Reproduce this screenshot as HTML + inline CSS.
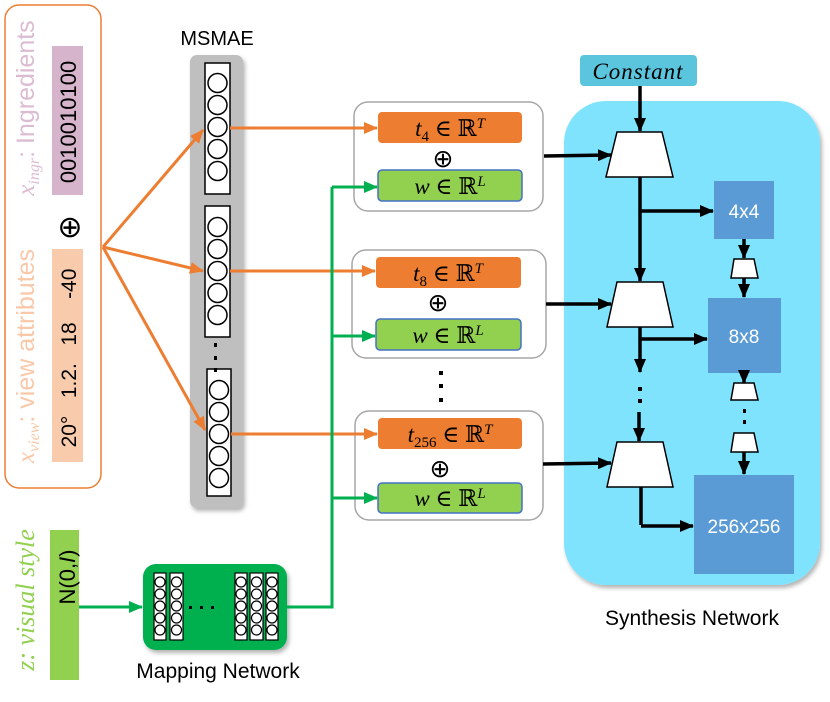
<!DOCTYPE html>
<html><head><meta charset="utf-8"><style>
html,body{margin:0;padding:0;background:#fff;}
svg{display:block;}
text{font-family:"Liberation Sans",sans-serif;}
.ser{font-family:"Liberation Serif","DejaVu Serif",serif;font-style:italic;}
</style></head><body>
<svg width="830" height="702" viewBox="0 0 830 702" xmlns="http://www.w3.org/2000/svg">
<defs>
<marker id="ao" markerUnits="userSpaceOnUse" markerWidth="14" markerHeight="12" refX="13" refY="6" orient="auto"><path d="M0,0L14,6L0,12z" fill="#ed7d31"/></marker>
<marker id="ag" markerUnits="userSpaceOnUse" markerWidth="14" markerHeight="12" refX="13" refY="6" orient="auto"><path d="M0,0L14,6L0,12z" fill="#00b050"/></marker>
<marker id="ab" markerUnits="userSpaceOnUse" markerWidth="14" markerHeight="12" refX="13" refY="6" orient="auto"><path d="M0,0L14,6L0,12z" fill="#000"/></marker>
<filter id="sh" x="-10%" y="-10%" width="130%" height="130%"><feDropShadow dx="2" dy="3" stdDeviation="2" flood-color="#000" flood-opacity="0.3"/></filter>
</defs>

<!-- left input box -->
<rect x="5" y="5" width="96" height="483" rx="14" fill="#fff" stroke="#ed7d31" stroke-width="1.5"/>
<rect x="52" y="46" width="31" height="149" fill="#d5b4cc"/>
<rect x="52" y="249" width="31" height="213" fill="#f8cbad"/>
<text transform="translate(76,122) rotate(-90)" text-anchor="middle" font-size="22">0010010100</text>
<text transform="translate(76,358) rotate(-90)" text-anchor="middle" font-size="21" xml:space="preserve">20°   1.2.   18    -40</text>
<text x="70" y="237" text-anchor="middle" font-size="30" font-family="DejaVu Sans">⊕</text>
<text transform="translate(34,108) rotate(-90)" text-anchor="middle" font-size="25" fill="#dbbcd2"><tspan class="ser">x</tspan><tspan class="ser" font-size="16" dy="5">ingr</tspan><tspan dy="-5">: Ingredients</tspan></text>
<text transform="translate(34,356) rotate(-90)" text-anchor="middle" font-size="25" fill="#f8c8a8"><tspan class="ser">x</tspan><tspan class="ser" font-size="16" dy="5">view</tspan><tspan dy="-5">: view attributes</tspan></text>

<!-- MSMAE -->
<text x="217" y="45" text-anchor="middle" font-size="20">MSMAE</text>
<rect x="190" y="55" width="53" height="453" rx="7" fill="#bfbfbf" filter="url(#sh)"/>
<g fill="#fff" stroke="#000" stroke-width="1.5">
<rect x="205" y="63" width="25" height="131"/>
<rect x="205" y="206" width="25" height="131"/>
<rect x="207" y="369" width="24" height="127"/>
<circle cx="217.5" cy="83" r="9.5"/><circle cx="217.5" cy="105" r="9.5"/><circle cx="217.5" cy="127" r="9.5"/><circle cx="217.5" cy="149" r="9.5"/><circle cx="217.5" cy="171" r="9.5"/>
<circle cx="217.5" cy="227" r="9.5"/><circle cx="217.5" cy="249" r="9.5"/><circle cx="217.5" cy="271" r="9.5"/><circle cx="217.5" cy="293" r="9.5"/><circle cx="217.5" cy="315" r="9.5"/>
<circle cx="219" cy="390" r="9.5"/><circle cx="219" cy="412" r="9.5"/><circle cx="219" cy="434" r="9.5"/><circle cx="219" cy="456" r="9.5"/><circle cx="219" cy="478" r="9.5"/>
</g>
<g fill="#000"><rect x="214" y="343" width="3" height="4"/><rect x="214" y="356" width="3" height="4"/><rect x="214" y="368" width="3" height="4"/></g>

<!-- middle boxes -->
<g fill="#fff" stroke="#a6a6a6" stroke-width="1.5">
<rect x="354" y="102" width="189" height="109" rx="14"/>
<rect x="352" y="250" width="194" height="108" rx="14"/>
<rect x="355" y="411" width="188" height="109" rx="14"/>
</g>
<g fill="#ed7d31"><rect x="378" y="112" width="144" height="31" rx="4"/><rect x="376" y="257" width="145" height="31" rx="4"/><rect x="378" y="418" width="144" height="31" rx="4"/></g>
<g fill="#92d050" stroke="#4472c4" stroke-width="1.5"><rect x="378" y="170" width="144" height="31" rx="4"/><rect x="376" y="319" width="145" height="31" rx="4"/><rect x="378" y="483" width="144" height="30" rx="4"/></g>
<g font-size="23" text-anchor="middle">
<text x="450" y="136" class="ser">t<tspan font-size="15" dy="5" font-style="normal">4</tspan><tspan dy="-5" font-style="normal"> ∈ ℝ</tspan><tspan font-size="15" dy="-8">T</tspan></text>
<text x="448" y="281" class="ser">t<tspan font-size="15" dy="5" font-style="normal">8</tspan><tspan dy="-5" font-style="normal"> ∈ ℝ</tspan><tspan font-size="15" dy="-8">T</tspan></text>
<text x="450" y="442" class="ser">t<tspan font-size="15" dy="5" font-style="normal">256</tspan><tspan dy="-5" font-style="normal"> ∈ ℝ</tspan><tspan font-size="15" dy="-8">T</tspan></text>
<text x="450" y="194" class="ser">w<tspan font-style="normal"> ∈ ℝ</tspan><tspan font-size="15" dy="-8">L</tspan></text>
<text x="448" y="343" class="ser">w<tspan font-style="normal"> ∈ ℝ</tspan><tspan font-size="15" dy="-8">L</tspan></text>
<text x="450" y="506" class="ser">w<tspan font-style="normal"> ∈ ℝ</tspan><tspan font-size="15" dy="-8">L</tspan></text>
</g>
<g font-size="25" text-anchor="middle" font-family="DejaVu Sans"><text x="443" y="167">⊕</text><text x="438" y="311">⊕</text><text x="440" y="477">⊕</text></g>
<g fill="#000"><rect x="439" y="371" width="4" height="4"/><rect x="439" y="384" width="4" height="4"/><rect x="439" y="398" width="4" height="4"/></g>

<!-- orange arrows -->
<g stroke="#ed7d31" stroke-width="3" fill="none">
<line x1="103" y1="247" x2="203" y2="130" marker-end="url(#ao)"/>
<line x1="103" y1="247" x2="203" y2="271" marker-end="url(#ao)"/>
<line x1="103" y1="247" x2="205" y2="430" marker-end="url(#ao)"/>
<line x1="230" y1="128" x2="377" y2="128" marker-end="url(#ao)"/>
<line x1="230" y1="271" x2="375" y2="271" marker-end="url(#ao)"/>
<line x1="231" y1="434" x2="377" y2="434" marker-end="url(#ao)"/>
</g>

<!-- z / mapping -->
<rect x="50" y="530" width="29" height="150" fill="#92d050"/>
<text transform="translate(75,577) rotate(-90)" text-anchor="middle" font-size="22" font-family="Liberation Serif,serif">N(0,<tspan font-style="italic">I</tspan>)</text>
<text transform="translate(34,600) rotate(-90)" text-anchor="middle" font-size="26" fill="#92d050" class="ser">z: visual style</text>
<rect x="143" y="564" width="144" height="86" rx="13" fill="#00b050" filter="url(#sh)"/>
<g fill="#fff" stroke="#000" stroke-width="1.2">
<rect x="154" y="573" width="12" height="67"/><rect x="170" y="573" width="13" height="67"/>
<rect x="235" y="573" width="12" height="67"/><rect x="250" y="573" width="13" height="67"/><rect x="266" y="573" width="12" height="67"/>
</g>
<g fill="none" stroke="#000" stroke-width="1.2">
<circle cx="160" cy="582" r="5"/><circle cx="160" cy="594" r="5"/><circle cx="160" cy="606" r="5"/><circle cx="160" cy="618" r="5"/><circle cx="160" cy="630" r="5"/>
<circle cx="176.5" cy="582" r="5"/><circle cx="176.5" cy="594" r="5"/><circle cx="176.5" cy="606" r="5"/><circle cx="176.5" cy="618" r="5"/><circle cx="176.5" cy="630" r="5"/>
<circle cx="241" cy="582" r="5"/><circle cx="241" cy="594" r="5"/><circle cx="241" cy="606" r="5"/><circle cx="241" cy="618" r="5"/><circle cx="241" cy="630" r="5"/>
<circle cx="256.5" cy="582" r="5"/><circle cx="256.5" cy="594" r="5"/><circle cx="256.5" cy="606" r="5"/><circle cx="256.5" cy="618" r="5"/><circle cx="256.5" cy="630" r="5"/>
<circle cx="272" cy="582" r="5"/><circle cx="272" cy="594" r="5"/><circle cx="272" cy="606" r="5"/><circle cx="272" cy="618" r="5"/><circle cx="272" cy="630" r="5"/>
</g>
<g fill="#000"><rect x="189" y="606" width="3" height="3"/><rect x="200" y="606" width="3" height="3"/><rect x="211" y="606" width="3" height="3"/></g>
<text x="218" y="678" text-anchor="middle" font-size="21">Mapping Network</text>
<g stroke="#00b050" stroke-width="3" fill="none">
<line x1="79" y1="607" x2="142" y2="607" marker-end="url(#ag)"/>
<polyline points="287,607 332,607 332,187"/>
<line x1="332" y1="187" x2="377" y2="187" marker-end="url(#ag)"/>
<line x1="332" y1="336" x2="375" y2="336" marker-end="url(#ag)"/>
<line x1="332" y1="498" x2="377" y2="498" marker-end="url(#ag)"/>
</g>

<!-- synthesis -->
<rect x="564" y="101" width="256" height="484" rx="42" fill="#7fe3fd" filter="url(#sh)"/>
<rect x="580" y="55" width="117" height="31" rx="4" fill="#5bc5de"/>
<text x="638" y="79" text-anchor="middle" font-size="23" class="ser" letter-spacing="1">Constant</text>
<g fill="#5b9bd5"><rect x="714" y="181" width="60" height="58"/><rect x="708" y="298" width="73" height="75"/><rect x="694" y="475" width="100" height="99"/></g>
<g fill="#fff" font-size="19" text-anchor="middle"><text x="744" y="218">4x4</text><text x="744" y="343">8x8</text><text x="744" y="533">256x256</text></g>
<g fill="#fff" stroke="#000" stroke-width="1.5">
<polygon points="617,132 662,132 673,177 606,177"/>
<polygon points="617,282 663,282 673,327 607,327"/>
<polygon points="617,442 663,442 673,487 607,487"/>
<polygon points="734,259 754,259 758,278 731,278"/>
<polygon points="734,383 754,383 758,400 731,400"/>
<polygon points="734,433 754,433 758,452 731,452"/>
</g>
<g stroke="#000" stroke-width="3.5" fill="none">
<line x1="640" y1="86" x2="640" y2="131" marker-end="url(#ab)"/>
<line x1="544" y1="156" x2="611" y2="155" marker-end="url(#ab)"/>
<line x1="546" y1="304" x2="611" y2="304" marker-end="url(#ab)"/>
<line x1="543" y1="464" x2="611" y2="463" marker-end="url(#ab)"/>
<line x1="640" y1="177" x2="640" y2="281" marker-end="url(#ab)"/>
<line x1="640" y1="211" x2="713" y2="211" marker-end="url(#ab)"/>
<line x1="640" y1="327" x2="640" y2="372" marker-end="url(#ab)"/>
<line x1="640" y1="339" x2="707" y2="339" marker-end="url(#ab)"/>
<line x1="639" y1="412" x2="639" y2="441" marker-end="url(#ab)"/>
<polyline points="641,487 641,525"/>
<line x1="641" y1="526" x2="693" y2="526" marker-end="url(#ab)"/>
<line x1="744" y1="239" x2="744" y2="258" marker-end="url(#ab)"/>
<line x1="744" y1="278" x2="744" y2="297" marker-end="url(#ab)"/>
<line x1="744" y1="373" x2="744" y2="383" marker-end="url(#ab)"/>
<line x1="744" y1="452" x2="744" y2="474" marker-end="url(#ab)"/>
</g>
<g fill="#000"><rect x="638" y="387" width="4" height="4"/><rect x="638" y="399" width="4" height="4"/><rect x="743" y="409" width="3" height="4"/><rect x="743" y="420" width="3" height="4"/></g>
<text x="692" y="625" text-anchor="middle" font-size="21">Synthesis Network</text>
</svg>
</body></html>
